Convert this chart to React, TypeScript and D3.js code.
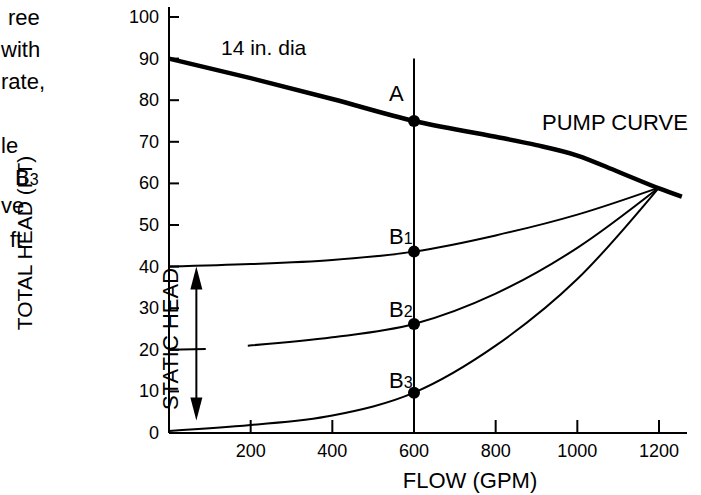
import React from "react";
import * as d3 from "d3";

const xTicks = [200, 400, 600, 800, 1000, 1200];
const yTicks = [0, 10, 20, 30, 40, 50, 60, 70, 80, 90, 100];

const pumpFlow = [0, 200, 400, 600, 800, 900, 1000, 1100, 1200, 1256];
const pumpHead = [90, 85.3, 80.3, 75, 71.2, 69.2, 66.7, 62.8, 58.8, 56.8];

const b1Flow = [0, 200, 400, 600, 800, 1000, 1200];
const b1Head = [40, 40.6, 41.6, 43.6, 47.5, 52.5, 59];

const b2LeftFlow = [0, 90];
const b2LeftHead = [20, 20.2];
const b2Flow = [193, 400, 600, 800, 1000, 1200];
const b2Head = [21, 23, 26.2, 33.5, 44.5, 59];

const b3Flow = [0, 200, 400, 600, 800, 1000, 1200];
const b3Head = [0.5, 1.9, 4.2, 9.7, 21, 37, 59];

const opFlow = 600;
const opPoints = [
  { head: 75, label: "A", sub: "", dy: -20 },
  { head: 43.6, label: "B", sub: "1", dy: -8 },
  { head: 26.2, label: "B", sub: "2", dy: -7 },
  { head: 9.7, label: "B", sub: "3", dy: -5 },
];

const staticArrowFlow = 67;
const staticArrowTop = 40;
const staticArrowBottom = 3;

const FONT = "'Liberation Sans', Arial, Helvetica, sans-serif";

export default function App() {
  const W = 701, H = 495;
  const x = d3.scaleLinear().domain([0, 1200]).range([169, 659]);
  const y = d3.scaleLinear().domain([0, 100]).range([433, 17]);

  const mk = (fs: number[], hs: number[]) => fs.map((f, i) => [x(f), y(hs[i])] as [number, number]);
  const line = d3.line().curve(d3.curveMonotoneX);
  const straight = d3.line();

  const ax = x(staticArrowFlow);
  const yTop = y(staticArrowTop);
  const yBot = y(staticArrowBottom);
  const ahW = 6, ahH = 23;

  return (
    <svg width={W} height={H} style={{ position: "absolute", left: 0, top: 0, background: "#fff" }} fontFamily={FONT}>
      <rect width={W} height={H} fill="#fff" />
      {/* cropped document text on left */}
      <g fontSize={22} fill="#000">
        <text x={8} y={25}>ree</text>
        <text x={1} y={57}>with</text>
        <text x={1} y={89}>rate,</text>
        <text x={1} y={153}>le</text>
        <text x={15} y={185}>B<tspan fontSize={16}>3</tspan></text>
        <text x={1} y={213}>ve</text>
        <text x={10} y={247}>ft</text>
      </g>
      <text transform={`translate(32,243) rotate(-90)`} textAnchor="middle" fontSize={21} fill="#000">TOTAL HEAD (FT)</text>

      {/* axes */}
      <line x1={x(0)} x2={x(0)} y1={7} y2={y(0)} stroke="#000" strokeWidth={2} />
      <line x1={x(0)} x2={687} y1={y(0)} y2={y(0)} stroke="#000" strokeWidth={2} />
      {yTicks.map(t => (
        <g key={"y" + t}>
          {t > 0 && <line x1={x(0)} x2={x(0) + 10} y1={y(t)} y2={y(t)} stroke="#000" strokeWidth={2} />}
          <text x={159} y={y(t) + 6} textAnchor="end" fontSize={18} fill="#000">{t}</text>
        </g>
      ))}
      {xTicks.map(t => (
        <g key={"x" + t}>
          <line x1={x(t)} x2={x(t)} y1={y(0)} y2={y(0) - 13} stroke="#000" strokeWidth={2} />
          <text x={x(t)} y={457} textAnchor="middle" fontSize={18} fill="#000">{t}</text>
        </g>
      ))}
      <text x={470} y={488} textAnchor="middle" fontSize={22} fill="#000">FLOW (GPM)</text>

      {/* system curves */}
      <path d={line(mk(b1Flow, b1Head)) || ""} fill="none" stroke="#000" strokeWidth={2} />
      <path d={straight(mk(b2LeftFlow, b2LeftHead)) || ""} fill="none" stroke="#000" strokeWidth={2} />
      <path d={line(mk(b2Flow, b2Head)) || ""} fill="none" stroke="#000" strokeWidth={2} />
      <path d={line(mk(b3Flow, b3Head)) || ""} fill="none" stroke="#000" strokeWidth={2} />
      {/* pump curve */}
      <path d={line(mk(pumpFlow, pumpHead)) || ""} fill="none" stroke="#000" strokeWidth={4.5} />

      {/* operating flow line */}
      <line x1={x(opFlow)} x2={x(opFlow)} y1={y(0)} y2={y(90)} stroke="#000" strokeWidth={2} />
      {opPoints.map((p, i) => (
        <g key={"p" + i}>
          <circle cx={x(opFlow)} cy={y(p.head)} r={6} fill="#000" />
          <text x={x(opFlow) - 25} y={y(p.head) + p.dy} fontSize={22} fill="#000">
            {p.label}
            {p.sub && <tspan fontSize={16}>{p.sub}</tspan>}
          </text>
        </g>
      ))}

      <text x={221} y={55} fontSize={21} fill="#000">14 in. dia</text>
      <text x={542} y={130} fontSize={22} fill="#000">PUMP CURVE</text>

      {/* static head arrow */}
      <line x1={ax} x2={ax} y1={yTop + ahH - 2} y2={yBot - ahH + 2} stroke="#000" strokeWidth={2} />
      <path d={`M${ax},${yTop} L${ax - ahW},${yTop + ahH} L${ax + ahW},${yTop + ahH} Z`} fill="#000" />
      <path d={`M${ax},${yBot} L${ax - ahW},${yBot - ahH} L${ax + ahW},${yBot - ahH} Z`} fill="#000" />
      <text transform={`translate(178,339) rotate(-90)`} textAnchor="middle" fontSize={22} fill="#000">STATIC HEAD</text>
    </svg>
  );
}
